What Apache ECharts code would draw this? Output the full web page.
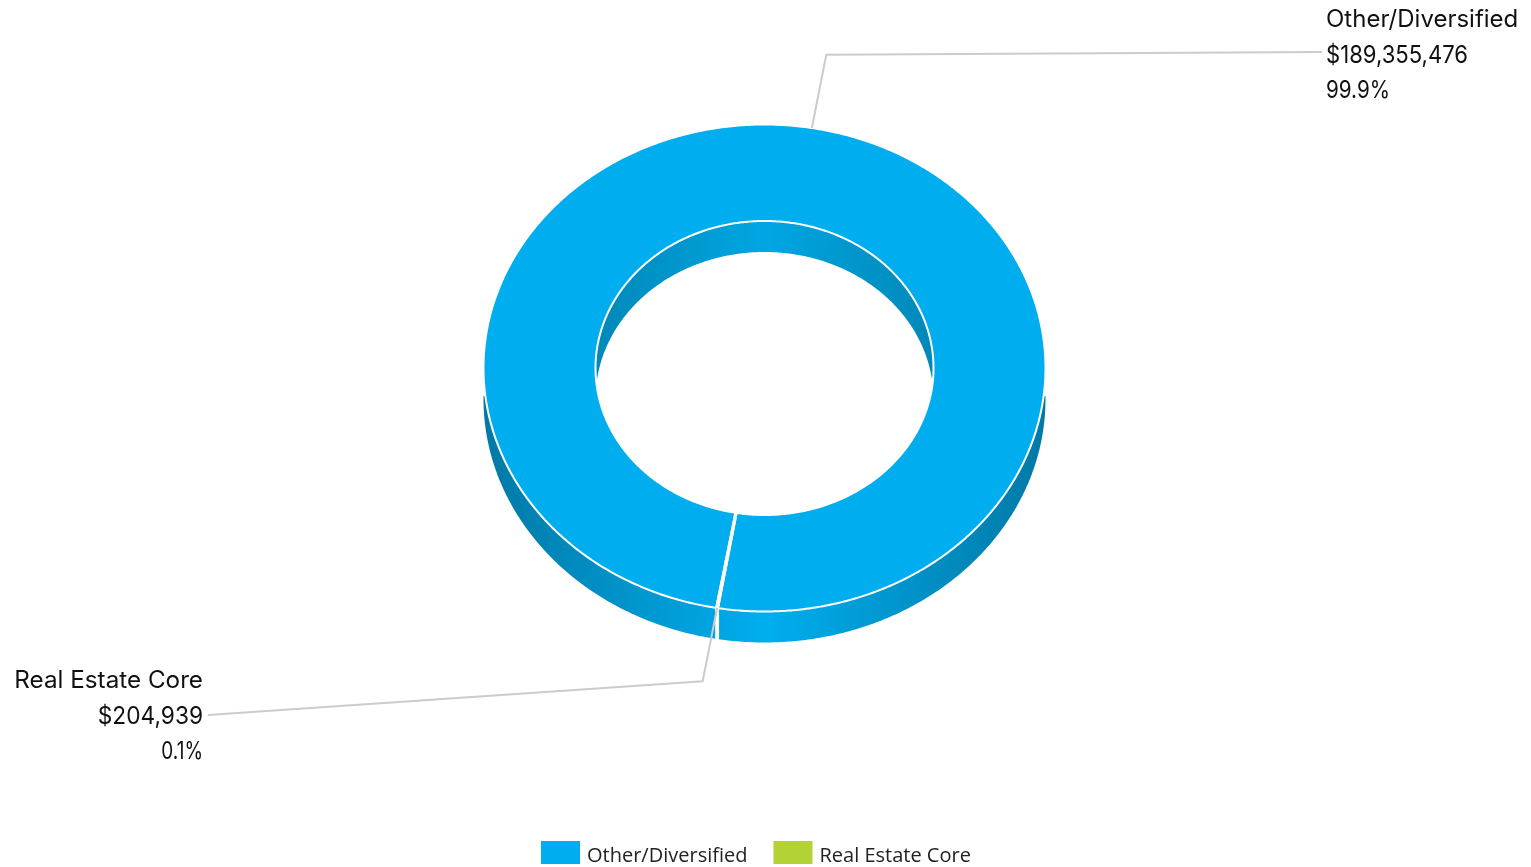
<!DOCTYPE html>
<html>
<head>
<meta charset="utf-8">
<style>html,body{margin:0;padding:0;background:#fff}#chart{width:1531px;height:867px}</style>
<script src="https://cdn.jsdelivr.net/npm/echarts@6/dist/echarts.min.js"></script>
</head>
<body>
<div id="chart"></div>
<script>
const categories = ['Other/Diversified', 'Real Estate Core'];
const amounts = [189355476, 204939];
const amountLabels = ['$189,355,476', '$204,939'];
const percentLabels = ['99.9%', '0.1%'];
const colors = ['#00AEEF', '#B2D235'];

// Ellipse geometry of the tilted ring
const CX = 764.5, CY = 368, RX = 281, RY = 243.5, IRX = 169, IRY = 147, DEPTH = 31;
const START = 189.9;
const ELBOW = 1.305;
const WALL_CUT = 28;
const LABEL_END = [[1322, 52], [208, 715]];
const LABEL_X = [1326, 203];
const LABEL_TOP = [8, 669];
const LINE_H = 35.5;
const LABEL_SCALE = [[1, 0.92, 0.86], [1.01, 0.946, 0.79]];
const total = amounts.reduce((a, b) => a + b, 0);

function pt(rx, ry, deg, dy) {
  const t = deg * Math.PI / 180;
  return [CX + rx * Math.sin(t), CY - ry * Math.cos(t) + (dy || 0)];
}
function arc(rx, ry, a, b, dy) {
  const n = Math.max(2, Math.ceil(Math.abs(b - a) * 2));
  const out = [];
  for (let i = 0; i <= n; i++) out.push(pt(rx, ry, a + (b - a) * i / n, dy));
  return out;
}
function hGrad(x0, x1, stops) {
  return { type: 'linear', global: true, x: x0, y: 0, x2: x1, y2: 0,
    colorStops: stops.map(s => ({ offset: s[0], color: s[1] })) };
}
function wallColor(idx, inner) {
  if (idx === 1) return '#ffffff';
  return inner
    ? hGrad(CX - IRX, CX + IRX, [[0, '#0088B8'], [0.5, '#00A6E3'], [1, '#0088B8']])
    : hGrad(CX - RX, CX + RX, [[0, '#0079A6'], [0.5, '#00AEEF'], [1, '#0079A6']]);
}

function angles(idx) {
  let a = START;
  for (let i = 0; i < idx; i++) a += amounts[i] / total * 360;
  return [a, a + amounts[idx] / total * 360];
}

function renderSlice(idx) {
  return function () {
    const [a0, a1] = angles(idx);
    const mid = (a0 + a1) / 2;
    const kids = [];
    // outer wall: visible between 90 and 270 degrees (any full turn)
    for (const k of [0, 360]) {
      const s = Math.max(a0, 90 + k), e = Math.min(a1, 270 + k);
      if (e > s) {
        kids.push({
          type: 'polygon', z2: 1,
          shape: { points: arc(RX, RY, s, e, 0).concat(arc(RX, RY, e, s, DEPTH)) },
          style: { fill: wallColor(idx, false), stroke: idx === 1 ? '#fff' : null, lineWidth: idx === 1 ? 2 : 0 },
          clipPath: { type: 'rect', shape: { x: 0, y: CY + WALL_CUT, width: 1531, height: 400 } }
        });
      }
    }
    // inner wall: visible on the far side
    const s = Math.max(a0, 270), e = Math.min(a1, 450);
    if (e > s) {
      kids.push({
        type: 'polygon', z2: 1,
        shape: { points: arc(IRX, IRY, s, e, 0).concat(arc(IRX, IRY, e, s, DEPTH)) },
        style: { fill: wallColor(idx, true) }
      });
    }
    // top face
    kids.push({
      type: 'polygon', z2: idx === 1 ? 3 : 2,
      shape: { points: arc(RX, RY, a0, a1, 0).concat(arc(IRX, IRY, a1, a0, 0)) },
      style: { fill: colors[idx], stroke: '#fff', lineWidth: 2, lineJoin: 'round' }
    });
    // leader line
    const p0 = pt(RX, RY, mid), p1 = pt(RX * ELBOW, RY * ELBOW, mid);
    kids.push({
      type: 'polyline', z2: 5,
      shape: { points: [p0, p1, LABEL_END[idx]] },
      style: { fill: null, stroke: '#CCCCCC', lineWidth: 2 }
    });
    // label
    [categories[idx], amountLabels[idx], percentLabels[idx]].forEach((t, i) => {
      kids.push({
        type: 'text', z2: 6,
        x: LABEL_X[idx], y: LABEL_TOP[idx] + LINE_H * i,
        scaleX: LABEL_SCALE[idx][i],
        style: {
          x: 0, y: 0,
          text: t, fill: '#111', font: '24px Inter',
          align: idx === 0 ? 'left' : 'right', verticalAlign: 'top'
        }
      });
    });
    return { type: 'group', children: kids };
  };
}

const chart = echarts.init(document.getElementById('chart'), null, { renderer: 'canvas' });
chart.setOption({
  animation: false,
  backgroundColor: '#fff',
  tooltip: { show: false },
  legend: {
    data: categories,
    left: 541, top: 841, padding: 0,
    itemWidth: 39, itemHeight: 23, itemGap: 26,
    icon: 'rect', selectedMode: false,
    formatter: '{t|{name}}',
    textStyle: {
      color: '#222',
      rich: { t: { fontFamily: 'Open Sans', fontSize: 20, color: '#222', padding: [8, 0, 0, 2] } }
    }
  },
  series: categories.map((name, idx) => ({
    type: 'custom', name,
    coordinateSystem: 'none',
    silent: true,
    itemStyle: { color: colors[idx] },
    data: [amounts[idx]],
    renderItem: renderSlice(idx)
  }))
});
</script>
</body>
</html>
